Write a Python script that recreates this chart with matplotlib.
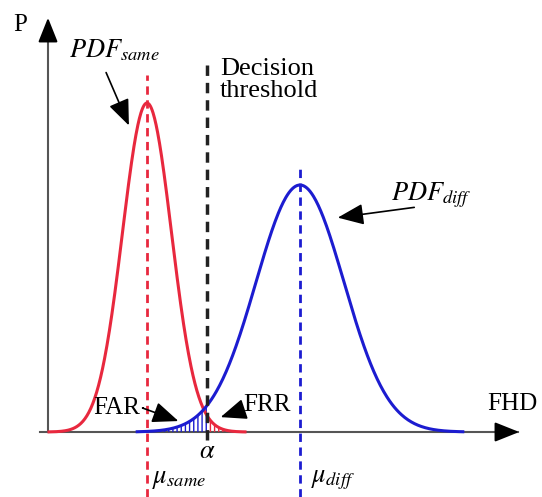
import numpy as np
import matplotlib
matplotlib.use("Agg")
import matplotlib.pyplot as plt

# parametros de las curvas (unidades ~ pixeles)
dist_names = ["same", "diff"]
dist_mu = [99, 252]
dist_sigma = [24.5, 44]
dist_peak = [329, 247]
dist_span = [4.0, 3.7]   # hasta cuantas sigmas se dibuja cada curva
dist_colors = ["#e8283e", "#1c1cd0"]
alpha_thr = 159

plt.rcParams['font.family'] = ['Liberation Serif', 'DejaVu Serif']
plt.rcParams['mathtext.fontset'] = 'stix'
plt.rcParams['hatch.linewidth'] = 1.0

fig = plt.figure(figsize=(5.42, 4.97), dpi=100)
ax = fig.add_axes([0, 0, 1, 1])
ax.set_xlim(-48, 494)
ax.set_ylim(-65, 432)
ax.axis('off')

def gauss(x, mu, s, h):
    return h * np.exp(-(x - mu) ** 2 / (2 * s ** 2))

for mu, s, h, k, c in zip(dist_mu, dist_sigma, dist_peak, dist_span, dist_colors):
    x = np.linspace(mu - k * s, mu + k * s, 400)
    ax.plot(x, gauss(x, mu, s, h), color=c, lw=2.2, zorder=3)

# zonas FAR / FRR rayadas
xb = np.linspace(dist_mu[1] - dist_span[1] * dist_sigma[1], alpha_thr, 200)
ax.fill_between(xb, 0, gauss(xb, dist_mu[1], dist_sigma[1], dist_peak[1]),
                facecolor='none', edgecolor=dist_colors[1], hatch='||||', lw=0, zorder=2)
xr = np.linspace(alpha_thr, dist_mu[0] + dist_span[0] * dist_sigma[0], 200)
ax.fill_between(xr, 0, gauss(xr, dist_mu[0], dist_sigma[0], dist_peak[0]),
                facecolor='none', edgecolor=dist_colors[0], hatch='||||', lw=0, zorder=2)

# lineas verticales
ax.plot([dist_mu[0], dist_mu[0]], [-65, 357], color=dist_colors[0], lw=2, ls=(0, (3, 2)), zorder=2)
ax.plot([dist_mu[1], dist_mu[1]], [-65, 267], color=dist_colors[1], lw=2, ls=(0, (3, 2)), zorder=2)
ax.plot([alpha_thr, alpha_thr], [-8, 367], color='#222222', lw=2.5, ls=(0, (3, 2)), zorder=4)

# ejes con flechas (linea gris, punta negra)
ax.plot([-8, 470], [0, 0], color='#555555', lw=1.5, zorder=1)
ax.plot([0, 0], [0, 400], color='#555555', lw=1.5, zorder=1)
head = dict(arrowstyle='-|>,head_length=1.5,head_width=0.6', color='black', lw=1.5)
ax.annotate('', xy=(474, 0), xytext=(455, 0), arrowprops=head)
ax.annotate('', xy=(0, 417), xytext=(0, 398), arrowprops=head)

ax.text(-35, 407, 'P', fontsize=18, ha='left', va='center')
ax.text(439, 28, 'FHD', fontsize=18, ha='left', va='center')
ax.text(172, 374, 'Decision\nthreshold', fontsize=19, ha='left', va='top', linespacing=1.0)
ax.text(21, 382, r'$PDF_{same}$', fontsize=19, ha='left', va='center')
ax.text(343, 237, r'$PDF_{diff}$', fontsize=19, ha='left', va='center')
ax.text(45, 24, 'FAR', fontsize=18, ha='left', va='center')
ax.text(195, 27, 'FRR', fontsize=18, ha='left', va='center')
ax.text(alpha_thr, -20, r'$\alpha$', fontsize=19, ha='center', va='center')
ax.text(104, -48, r'$\mu_{same}$', fontsize=19, ha='left', va='center')
ax.text(263, -48, r'$\mu_{diff}$', fontsize=19, ha='left', va='center')

hd = dict(arrowstyle='-|>,head_length=1.6,head_width=0.65', color='black', lw=1.2)
ax.annotate('', xy=(82, 304), xytext=(57, 362), arrowprops=hd)
ax.annotate('', xy=(287, 214), xytext=(369, 225), arrowprops=hd)
ax.annotate('', xy=(133, 10), xytext=(98, 24),
            arrowprops=dict(hd, connectionstyle='angle,angleA=0,angleB=-20,rad=0'))
ax.annotate('', xy=(170, 14), xytext=(194, 22), arrowprops=hd)

fig.savefig('out.png', dpi=100)
